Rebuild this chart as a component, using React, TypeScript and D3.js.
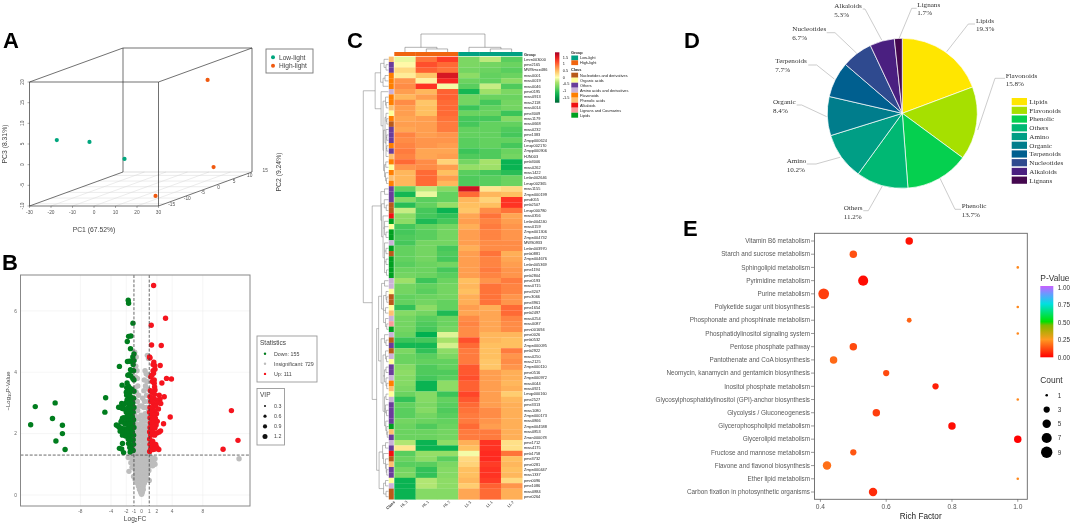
import React from "react";
import * as d3 from "d3";

// ---------- Panel A ----------
const pcaLow = [[-26, -11, 4.3], [-19.5, -5, 2.2], [-20.6, 7, -5.2]];
const pcaHigh = [[13.7, 10, 13.1], [14.3, 11.5, -8.4], [22.1, -12.5, -8.8]];
const pc1Ticks = [-30, -20, -10, 0, 10, 20, 30];
const pc2Ticks = [-15, -10, -5, 0, 5, 10, 15];
const pc3Ticks = [-10, -5, 0, 5, 10, 15, 20];

// ---------- Panel B ----------
const volcanoDown = [
  [-13.9, 2.88], [-11.3, 3.0], [-11.65, 2.49], [-14.5, 2.29], [-10.35, 2.27], [-10.35, 2.0], [-11.2, 1.76], [-10.0, 1.48], [-4.7, 3.17], [-4.8, 2.7], [-2.9, 4.19], [-2.55, 3.58], [-1.75, 6.35], [-1.7, 6.25], [-1.13, 5.6], [-1.7, 5.17], [-1.4, 5.18], [-1.87, 5.0], [-1.45, 4.77],
  [-1.0, 4.6], [-1.15, 4.5], [-1.0, 4.38], [-1.3, 4.36], [-1.6, 4.36], [-1.85, 4.35], [-1.1, 4.25], [-1.45, 4.08], [-1.3, 4.05], [-1.05, 4.05], [-1.65, 3.92], [-1.4, 3.88], [-1.8, 3.9], [-1.15, 3.8], [-1.0, 3.75], [-1.9, 3.65], [-1.75, 3.55], [-1.95, 3.5], [-1.6, 3.5], [-1.3, 3.45], [-1.85, 3.4], [-2.0, 3.35], [-1.55, 3.33], [-1.2, 3.4], [-1.0, 3.38], [-1.95, 3.25], [-1.7, 3.22], [-1.45, 3.2], [-1.9, 3.1], [-1.6, 3.08], [-1.3, 3.12], [-1.05, 3.15], [-2.05, 3.0], [-1.75, 2.98], [-1.45, 2.95], [-1.15, 3.0], [-2.6, 2.98], [-2.35, 2.95], [-3.0, 2.86], [-2.75, 2.85], [-2.5, 2.82], [-2.25, 2.8], [-1.85, 2.82], [-1.55, 2.82], [-1.25, 2.8], [-1.0, 2.85], [-2.0, 2.7], [-1.7, 2.7], [-1.4, 2.65], [-1.1, 2.7], [-1.5, 2.55], [-1.2, 2.55], [-1.85, 2.58], [-2.05, 2.5], [-2.5, 2.5], [-2.3, 2.52], [-2.6, 2.42], [-1.95, 2.4], [-1.65, 2.42], [-1.35, 2.42], [-1.05, 2.45], [-2.7, 2.38], [-2.2, 2.32], [-1.8, 2.3], [-1.5, 2.3], [-1.15, 2.32], [-3.3, 2.28], [-3.1, 2.25], [-2.9, 2.2], [-2.65, 2.18], [-2.4, 2.15], [-2.15, 2.15], [-1.9, 2.15], [-1.6, 2.15], [-1.3, 2.18], [-1.0, 2.2], [-2.8, 2.08], [-2.5, 2.05], [-2.3, 2.02], [-1.95, 2.05], [-1.65, 2.02], [-1.2, 2.05], [-2.5, 1.95], [-2.1, 1.92], [-1.5, 1.92], [-1.05, 1.95], [-1.75, 1.82], [-1.4, 1.78], [-1.1, 1.8], [-2.5, 1.68], [-1.7, 1.68], [-1.35, 1.62], [-1.05, 1.65], [-2.9, 1.52], [-2.6, 1.5], [-1.55, 1.55], [-1.3, 1.5], [-1.1, 1.45], [-2.35, 1.38], [-1.5, 1.4],
];
const volcanoUp = [
  [1.57, 6.83], [3.13, 5.76], [1.26, 5.53], [1.3, 4.89], [2.57, 4.87], [1.04, 4.5], [1.6, 4.33], [1.7, 4.22], [2.43, 4.22], [1.56, 3.97], [1.35, 3.9], [3.26, 3.8], [3.9, 3.78], [2.65, 3.65], [1.65, 3.64], [3.74, 2.54], [11.74, 2.75], [12.6, 1.78], [10.65, 1.49], [2.96, 3.2], [2.87, 2.32], [2.48, 2.09],
  [1.1, 4.47], [1.5, 4.25], [1.75, 4.1], [1.5, 4.05], [1.2, 3.85], [1.65, 3.75], [1.4, 3.7], [1.7, 3.52], [1.75, 3.42], [1.15, 3.4], [1.35, 3.35], [1.7, 3.28], [2.3, 3.25], [2.4, 3.12], [1.1, 3.2], [1.55, 3.15], [1.9, 3.1], [1.2, 3.05], [1.5, 2.98], [2.1, 3.0], [2.5, 2.98], [1.8, 2.9], [1.1, 2.85], [1.4, 2.82], [2.2, 2.8], [1.7, 2.75], [1.05, 2.7], [1.35, 2.65], [1.95, 2.65], [1.6, 2.6], [1.1, 2.52], [1.8, 2.5], [1.4, 2.45], [2.05, 2.4], [1.15, 2.35], [1.6, 2.35], [1.9, 2.28], [1.1, 2.2], [1.4, 2.2], [1.75, 2.18], [1.05, 2.05], [1.45, 2.05], [2.0, 2.02], [2.3, 2.05], [1.2, 1.95], [1.7, 1.95], [1.05, 1.82], [1.45, 1.75], [1.1, 1.65], [1.55, 1.62], [1.85, 1.65], [2.0, 1.55], [1.2, 1.5], [1.5, 1.48], [1.75, 1.5], [2.25, 1.48], [1.05, 1.42],
];
const volcanoFlat = [
  [-0.9, 4.65], [-0.7, 4.5], [-0.95, 4.4], [0.75, 4.55], [0.9, 4.45], [-0.75, 4.2], [-0.6, 4.05], [0.45, 4.05], [0.6, 3.95], [0.85, 3.9], [-0.8, 3.85], [-0.55, 3.8], [0.35, 3.75], [0.7, 3.7], [-0.5, 3.55], [-0.85, 3.5], [0.5, 3.55], [0.85, 3.45], [0.3, 3.4], [-0.7, 3.35], [-0.4, 3.25], [0.65, 3.25], [0.15, 3.15], [-0.85, 3.1], [-0.55, 3.05], [0.4, 3.05], [0.9, 3.05], [-0.25, 2.9], [0.05, 2.9], [0.3, 2.85], [0.65, 2.85], [-0.75, 2.85], [-0.5, 2.75], [-0.9, 2.7], [0.85, 2.7], [0.45, 2.65], [-0.1, 2.6], [0.2, 2.55], [-0.7, 2.55], [0.7, 2.55], [-0.4, 2.48], [-0.9, 2.42], [0.05, 2.4], [0.4, 2.4], [0.9, 2.4], [-0.2, 2.3], [-0.6, 2.3], [0.25, 2.25], [0.65, 2.25], [-0.9, 2.18], [-0.35, 2.15], [0.05, 2.12], [0.45, 2.1], [0.85, 2.1], [-0.65, 2.05], [-0.15, 2.0], [0.25, 1.98], [0.65, 1.95],
  [-0.9, 1.95], [-0.45, 1.9], [0.05, 1.85], [0.45, 1.82], [0.85, 1.82], [-0.7, 1.78], [-0.25, 1.75], [0.25, 1.7], [0.7, 1.68], [-0.95, 1.65], [-0.5, 1.62], [0, 1.6], [0.5, 1.58], [0.95, 1.58], [-0.75, 1.5], [-0.25, 1.48], [0.25, 1.45], [0.75, 1.45], [-1, 1.38], [-0.5, 1.35], [0, 1.33], [0.5, 1.32], [1, 1.35],
  [-1.75, 1.22], [-1.45, 1.25], [-1.2, 1.2], [-0.9, 1.25], [-0.6, 1.22], [-0.3, 1.25], [0, 1.22], [0.3, 1.25], [0.6, 1.22], [0.9, 1.25], [1.2, 1.22], [1.5, 1.2], [1.75, 1.18], [1.6, 1.05], [1.3, 1.08], [1.0, 1.1], [0.7, 1.08], [0.4, 1.1], [0.1, 1.08], [-0.2, 1.1], [-0.5, 1.08], [-0.8, 1.1], [-1.1, 1.08], [-1.4, 1.05], [1.75, 1.0], [1.45, 0.95], [1.1, 0.95], [0.8, 0.95], [0.5, 0.95], [0.2, 0.95], [-0.1, 0.95], [-0.4, 0.95], [-0.7, 0.95], [-1.0, 0.92], [-1.25, 0.9], [-1.65, 0.77], [-0.85, 0.82], [-0.55, 0.82], [-0.25, 0.82], [0.05, 0.82], [0.35, 0.82], [0.65, 0.82], [0.95, 0.8], [-0.75, 0.7], [-0.45, 0.7], [-0.15, 0.7], [0.15, 0.7], [0.45, 0.7], [0.75, 0.7], [-1.05, 0.6], [-0.6, 0.58], [-0.3, 0.58], [0, 0.58], [0.3, 0.58], [0.6, 0.58], [-0.85, 0.5], [-0.45, 0.48], [-0.15, 0.47], [0.15, 0.47], [0.45, 0.48], [1.0, 0.47], [-0.55, 0.38], [-0.25, 0.38], [0.05, 0.37], [0.35, 0.38], [-0.4, 0.28], [-0.12, 0.28], [0.2, 0.28], [-0.28, 0.18], [0, 0.18], [0.22, 0.18], [-0.12, 0.09], [0.1, 0.09], [0, 0.02], [12.74, 1.18],
];
const volcanoXTicks = [-8, -4, -2, -1, 0, 1, 2, 4, 8];
const volcanoYTicks = [0, 2, 4, 6];
const statLabels = ["Down: 155", "Insignificant: 729", "Up: 111"];
const vipLabels = ["0.3", "0.6", "0.9", "1.2"];

// ---------- Panel C ----------
const heatColumns = ["HL 3", "HL 1", "HL 2", "LL 3", "LL 1", "LL 2"];
const heatRows = ["Lmrn003000", "pme2165", "MWSmce486", "mws0001", "mws0019", "mws0046", "pme0195", "mws0913", "mws2118", "mws0014", "pme3009", "mws1179", "mws0668", "mws0232", "pme1383", "Zmpp000624", "Lmxp002170", "Zmpp000906", "HJN003", "pmb3006", "mws0262", "mws1422", "Lmbn002646", "Lmzp002365", "mws1155", "Zmpn000199", "pmdi055", "pmb2507", "Lmxp000780", "mws0356", "Lmbn004240", "mws0159", "Zmpn001306", "Zmpn004732", "MWS0933", "Lmbn003970", "pmb0881", "Zmpn004676", "Lmbn005369", "pme1194", "pmb2804", "pme0193", "mws0715", "pme3207", "pmc3066", "pme3961", "pme1654", "pmb2497", "mws0254", "mws0087", "pmn001694", "pme0026", "pmb0532", "Zmpn000095", "pmb2922", "mws0250", "mws2125", "Zmpn000110", "pme0516", "Zmpn000972", "mws0044", "mws0921", "Lmqp000160", "pme2527", "pme3313", "mws1080", "Zmpn000173", "mws0866", "Zmpn004588", "mws0853", "Zmxn000078", "pme1712", "mws4175", "pmb1758", "pme3732", "pme0281", "Zmpn000447", "mws1337", "pmn0096", "pme1086", "mws0884", "pme0264"];
const heatValues = [
  [-0.1, 0.95, 1.25, -0.65, -0.3, -0.85], [0.05, 1.15, 1.0, -0.65, -0.7, -0.75], [0.3, 1.05, 0.95, -0.7, -0.75, -0.85], [0.15, 0.45, 1.6, -0.55, -0.8, -0.75], [0.75, 0.1, 1.4, -0.75, -0.8, -0.55], [0.8, 1.3, -0.05, -0.85, -0.25, -0.9],
  [0.7, 0.55, 1.05, -1.2, -0.45, -0.65], [0.55, 0.7, 1.05, -0.7, -0.75, -0.75], [0.8, 0.45, 1.0, -0.7, -0.95, -0.7], [0.7, 0.5, 1.0, -1.0, -0.8, -0.7], [0.7, 0.5, 1.0, -0.75, -0.75, -1.0], [0.65, 0.7, 0.95, -0.95, -0.95, -0.6],
  [0.7, 0.7, 0.9, -0.95, -0.8, -0.8], [0.65, 0.7, 0.9, -0.8, -0.8, -0.9], [0.85, 0.7, 0.75, -0.8, -0.8, -0.95], [0.8, 0.75, 0.75, -0.85, -0.8, -0.8], [0.85, 0.75, 0.7, -0.85, -0.8, -0.95], [0.9, 0.65, 0.65, -1.0, -0.9, -0.75],
  [0.85, 0.65, 0.7, -0.9, -0.9, -0.7], [1.0, 0.8, 0.35, -0.7, -0.4, -1.25], [0.75, 0.8, 0.7, -0.5, -0.45, -1.25], [0.55, 1.0, 0.5, -0.85, -0.95, -1.1], [0.55, 1.0, 0.7, -0.9, -0.85, -0.75], [0.55, 1.0, 0.55, -0.9, -0.85, -0.75],
  [-0.8, -0.3, -0.6, 1.65, 0.2, 0.3], [-1.2, -0.1, -0.8, 1.0, 0.55, 0.5], [-0.6, -0.85, -0.8, 0.55, 0.35, 1.3], [-1.1, -0.8, -0.5, 0.5, 0.5, 1.3], [-0.25, -0.95, -1.25, 0.45, 0.8, 0.95], [-0.55, -0.95, -1.05, 0.65, 0.95, 0.65],
  [-0.55, -1.15, -0.95, 0.7, 0.85, 0.7], [-0.95, -0.8, -0.7, 0.6, 0.9, 0.75], [-0.95, -0.85, -0.7, 0.7, 0.85, 0.75], [-0.9, -0.85, -0.7, 0.7, 0.85, 0.75], [-0.95, -0.7, -0.7, 0.7, 0.8, 0.8], [-0.8, -0.7, -0.95, 0.6, 0.8, 0.8],
  [-0.8, -0.7, -0.9, 0.7, 0.95, 0.6], [-0.8, -0.7, -0.95, 0.7, 0.85, 0.65], [-0.85, -0.75, -0.7, 0.7, 0.85, 0.7], [-0.75, -0.75, -0.95, 0.7, 0.9, 0.75], [-0.7, -0.75, -0.85, 0.7, 0.85, 0.75], [-0.45, -1.0, -0.75, 0.5, 0.75, 0.9],
  [-0.7, -0.8, -0.7, 0.55, 0.95, 0.85], [-0.7, -0.85, -0.7, 0.5, 0.95, 0.85], [-0.8, -0.75, -0.7, 0.6, 0.95, 0.75], [-0.8, -0.7, -0.8, 0.6, 0.95, 0.75], [-1.05, -0.55, -0.8, 0.7, 0.6, 1.0], [-0.6, -0.7, -1.15, 0.65, 0.65, 1.0],
  [-0.7, -0.85, -0.75, 0.8, 0.65, 0.85], [-0.7, -0.9, -0.75, 0.85, 0.65, 0.8], [-0.7, -0.95, -0.7, 0.8, 0.65, 0.8], [-0.75, -1.3, -0.15, 0.8, 0.55, 0.55], [-1.0, -0.95, -0.4, 1.15, 0.55, 0.5], [-1.2, -1.2, -0.2, 1.0, 0.5, 0.5],
  [-0.65, -1.05, -0.55, 0.9, 0.5, 0.9], [-0.75, -0.85, -0.65, 0.9, 0.5, 0.75], [-0.75, -0.8, -0.8, 0.9, 0.45, 0.8], [-0.6, -0.9, -0.8, 1.1, 0.45, 0.75], [-0.55, -0.9, -0.9, 1.1, 0.7, 0.6], [-0.6, -0.95, -0.85, 1.15, 0.7, 0.6],
  [-0.6, -1.25, -0.55, 1.05, 0.7, 0.55], [-0.65, -1.25, -0.55, 1.05, 0.7, 0.6], [-0.75, -0.6, -1.0, 1.2, 0.7, 0.4], [-1.05, -0.6, -0.8, 1.1, 0.7, 0.55], [-0.8, -0.65, -0.85, 1.0, 0.7, 0.6], [-0.85, -0.6, -0.9, 0.95, 0.8, 0.6],
  [-0.85, -0.7, -0.85, 0.9, 0.8, 0.6], [-0.7, -0.75, -0.8, 0.9, 0.75, 0.6], [-0.75, -0.9, -0.75, 1.0, 0.7, 0.6], [-0.75, -0.75, -0.7, 0.9, 0.9, 0.6], [-0.75, -0.75, -0.7, 0.9, 0.9, 0.6], [-0.35, -1.25, -0.55, 0.6, 1.3, 0.25],
  [0.2, -1.25, -1.25, 0.5, 1.3, 0.25], [-0.85, -0.5, -0.5, -0.05, 1.35, 0.95], [-0.75, -0.55, -0.85, 0.3, 1.35, 0.5], [-0.85, -0.85, -0.65, 0.35, 1.25, 0.55], [-0.7, -1.05, -0.6, 0.5, 1.3, 0.5], [-0.65, -1.05, -0.6, 0.5, 1.3, 0.55],
  [-1.25, -0.35, -0.55, 0.55, 1.25, 0.3], [-1.25, -0.35, -0.55, 0.4, 1.05, 0.75], [-1.25, -0.6, -0.6, 0.65, 1.0, 0.6], [-1.25, -0.6, -0.6, 0.65, 1.0, 0.6],
];
const classNames = ["Nucleotides and derivatives", "Organic acids", "Others", "Amino acids and derivatives", "Flavonoids", "Phenolic acids", "Alkaloids", "Lignans and Coumarins", "Lipids"];
// index into classNames for each row
const rowClass = [5, 2, 2, 4, 4, 4, 3, 4, 4, 5, 1, 4, 0, 2, 2, 2, 4, 2, 5, 4, 1, 4, 5, 4, 2, 2, 2, 0, 0, 6, 8, 1, 8, 8, 3, 8, 0, 8, 8, 8, 8, 3, 3, 1, 0, 0, 1, 5, 3, 7, 8, 3, 0, 2, 0, 3, 1, 2, 2, 3, 4, 5, 1, 3, 2, 2, 2, 2, 8, 5, 2, 3, 2, 6, 0, 5, 2, 2, 1, 3, 0, 0];
const heatLegendTicks = [1.5, 1, 0.5, 0, -0.5, -1, -1.5];
const heatLegendLabels = ["1.5", "1", "0.5", "0", "-0.5", "-1", "-1.5"];
const groupNames = ["Low-light", "High-light"];
// column clustering: [height, child, child]; leaves are column indices
const colTree: any = [1.0, [0.26, 0, [0.17, 1, 2]], [0.26, 3, [0.17, 4, 5]]];
// row clustering: [height, ...children]; leaves are row numbers (1-based)
const rowTree: any = [1.0,
  [0.52,
    [0.3, [0.16, 1, [0.08, 2, 3]], [0.2, [0.12, 4, 5], 6]],
    [0.28, 7, [0.2, [0.1, 8, [0.07, 9, 10]], [0.18, [0.12, [0.08, 11, [0.05, 12, 13]], [0.08, 14, [0.05, 15, 16], [0.05, 17, 18], 19]], [0.14, [0.09, 20, 21], [0.1, 22, [0.06, 23, 24]]]]]],
  ],
  [0.64,
    [0.29, [0.14, 25, 26], [0.26, [0.15, 27, [0.07, 28, 29]], [0.2, 30, [0.14, 31, 32, [0.08, 33, 34]], [0.14, 35, [0.08, 36, 37], [0.08, 38, 39], [0.06, 40, 41]]]]],
    [0.46,
      [0.38,
        [0.26, [0.14, 42, 43], [0.18, [0.08, 44, [0.05, 45, 46]], [0.1, 47, 48], [0.1, 49, [0.05, 50, 51]]]],
        [0.28, [0.14, 52, [0.08, 53, 54]], [0.2, [0.1, 55, [0.06, 56, 57]], [0.14, [0.08, 58, 59], [0.08, 60, [0.05, 61, 62]]], [0.14, [0.08, 63, 64], [0.1, 65, [0.06, 66, 67]], [0.09, 68, [0.05, 69, [0.03, 70, 71]]]]]],
      ],
      [0.36, [0.22, [0.1, 72, 73], [0.18, 74, [0.1, 75, [0.07, 76, [0.05, 77, 78]]]]], [0.18, [0.1, 79, 80], [0.08, 81, 82]]],
    ],
  ],
];

// ---------- Panel D ----------
const pieNames = ["Lipids", "Flavonoids", "Phenolic", "Others", "Amino", "Organic", "Terpenoids", "Nucleotides", "Alkaloids", "Lignans"];
const pieValues = [19.3, 15.8, 13.7, 11.2, 10.2, 8.4, 7.7, 6.7, 5.3, 1.7];
const pieColors = ["#ffe600", "#a6e000", "#05d04f", "#00b873", "#009e85", "#007d8c", "#005f8f", "#2f4a8f", "#4a1f80", "#45084f"];

// ---------- Panel E ----------
const pathways = ["Vitamin B6 metabolism", "Starch and sucrose metabolism", "Sphingolipid metabolism", "Pyrimidine metabolism", "Purine metabolism", "Polyketide sugar unit biosynthesis", "Phosphonate and phosphinate metabolism", "Phosphatidylinositol signaling system", "Pentose phosphate pathway", "Pantothenate and CoA biosynthesis", "Neomycin, kanamycin and gentamicin biosynthesis", "Inositol phosphate metabolism", "Glycosylphosphatidylinositol (GPI)-anchor biosynthesis", "Glycolysis / Gluconeogenesis", "Glycerophospholipid metabolism", "Glycerolipid metabolism", "Fructose and mannose metabolism", "Flavone and flavonol biosynthesis", "Ether lipid metabolism", "Carbon fixation in photosynthetic organisms"];
const richFactor = [0.67, 0.5, 1.0, 0.53, 0.41, 1.0, 0.67, 1.0, 0.5, 0.44, 0.6, 0.75, 1.0, 0.57, 0.8, 1.0, 0.5, 0.42, 1.0, 0.56];
const pathwayCount = [4, 4, 1, 7, 8, 1, 2, 1, 4, 4, 3, 3, 1, 4, 4, 4, 3, 5, 1, 5];
const pathwayP = [0.03, 0.13, 0.22, 0.02, 0.1, 0.22, 0.16, 0.22, 0.12, 0.17, 0.12, 0.05, 0.22, 0.1, 0.02, 0.0, 0.14, 0.18, 0.22, 0.07];
const richTicks = [0.4, 0.6, 0.8, 1.0];
const countLegend = [1, 3, 5, 7, 9];
const pLegend = [1, 0.75, 0.5, 0.25, 0];

// ---------- layout helpers (not data) ----------
const SANS = "'Liberation Sans', Arial, sans-serif";
const SERIF = "'Liberation Serif', 'Times New Roman', serif";
const pieLeaderLayout = [
  { tx: 976, ty: 22.5, pts: [[946.7, 51.7], [968.3, 24], [975, 24]] },
  { tx: 1005.7, ty: 77.6, pts: [[977.7, 130], [995, 78.3], [1005, 78.3]] },
  { tx: 961.7, ty: 208.3, pts: [[940, 178.3], [955, 209.3], [961, 209.3]] },
  { tx: 843.7, ty: 210, pts: [[882.3, 186], [868.3, 210.7], [863.3, 210.7]] },
  { tx: 786.7, ty: 163.3, pts: [[840, 157.3], [816, 164], [806.7, 164]] },
  { tx: 773, ty: 104, pts: [[826.7, 116.7], [801.7, 105], [796.7, 105]] },
  { tx: 775.3, ty: 63.3, pts: [[834.3, 79], [816.7, 65], [808.3, 65]] },
  { tx: 792.3, ty: 31, pts: [[856.7, 53.3], [835, 32.7], [826.7, 32.7]] },
  { tx: 834.3, ty: 8, pts: [[881.7, 40], [865, 9], [862.7, 9]] },
  { tx: 917.3, ty: 6.6, pts: [[899, 38.7], [911.7, 8.3], [916.7, 8.3]] },
];

const Letter = ({ x, y, t }: any) => (
  <text x={x} y={y} fontFamily={SANS} fontWeight="bold" fontSize={22} fill="#000">{t}</text>
);

function PanelA() {
  const xs = d3.scaleLinear().domain([-30, 30]).range([29.5, 158.5]);
  const zs = d3.scaleLinear().domain([-10, 20]).range([206, 82]);
  const ts = d3.scaleLinear().domain([-17, 13]).range([0, 1]);
  const DX = 93.5, DY = 34;
  const proj = (p: number[]) => [xs(p[0]) + DX * ts(p[1]), zs(p[2]) - DY * ts(p[1])];
  const ink = "#333";
  const x0 = xs(-30), x1 = xs(30), zb = zs(-10), zt = zs(20);
  const edges = [
    [x0, zb, x1, zb], [x0, zt, x1, zt], [x0, zb, x0, zt], [x1, zb, x1, zt],
    [x0, zt, x0 + DX, zt - DY], [x1, zt, x1 + DX, zt - DY], [x0, zb, x0 + DX, zb - DY], [x1, zb, x1 + DX, zb - DY],
    [x0 + DX, zt - DY, x1 + DX, zt - DY], [x0 + DX, zt - DY, x0 + DX, zb - DY], [x1 + DX, zt - DY, x1 + DX, zb - DY],
  ];
  const tickText = { fontFamily: SANS, fontSize: 4.8, fill: "#555" };
  return (
    <g>
      {pc1Ticks.slice(1, -1).map((t) => (
        <line key={t} x1={xs(t)} y1={zb} x2={xs(t) + DX} y2={zb - DY} stroke="#d8d8d8" strokeWidth={0.5} />
      ))}
      {pc2Ticks.slice(0, -1).map((t) => (
        <line key={t} x1={x0 + DX * ts(t)} y1={zb - DY * ts(t)} x2={x1 + DX * ts(t)} y2={zb - DY * ts(t)} stroke="#d8d8d8" strokeWidth={0.5} />
      ))}
      <line x1={x0 + DX} y1={zb - DY} x2={x1 + DX} y2={zb - DY} stroke="#bbb" strokeWidth={0.5} />
      {edges.map((e, i) => (
        <line key={i} x1={e[0]} y1={e[1]} x2={e[2]} y2={e[3]} stroke={ink} strokeWidth={0.7} />
      ))}
      {pc1Ticks.map((t) => (
        <g key={t}>
          <line x1={xs(t)} x2={xs(t)} y1={zb} y2={zb + 2} stroke={ink} strokeWidth={0.4} />
          <text x={xs(t)} y={zb + 8} textAnchor="middle" {...tickText}>{t}</text>
        </g>
      ))}
      {pc3Ticks.map((t) => (
        <g key={t}>
          <line x1={x0 - 2} x2={x0} y1={zs(t)} y2={zs(t)} stroke={ink} strokeWidth={0.4} />
          <text transform={`translate(23.5,${zs(t)}) rotate(-90)`} textAnchor="middle" {...tickText}>{t}</text>
        </g>
      ))}
      {pc2Ticks.map((t) => (
        <text key={t} x={x1 + DX * ts(t) + 7} y={zb - DY * ts(t) + 2} textAnchor="middle" {...tickText}>{t}</text>
      ))}
      {pcaLow.map((p, i) => {
        const [cx, cy] = proj(p);
        return <circle key={i} cx={cx} cy={cy} r={2.1} fill="#00a67e" />;
      })}
      {pcaHigh.map((p, i) => {
        const [cx, cy] = proj(p);
        return <circle key={i} cx={cx} cy={cy} r={2.1} fill="#f0590f" />;
      })}
      <text x={94} y={231.5} textAnchor="middle" fontFamily={SANS} fontSize={6.8} fill="#444">PC1 (67.52%)</text>
      <text transform="translate(7,144) rotate(-90)" textAnchor="middle" fontFamily={SANS} fontSize={6.8} fill="#444">PC3 (8.31%)</text>
      <text transform="translate(280.5,172) rotate(-90)" textAnchor="middle" fontFamily={SANS} fontSize={6.8} fill="#444">PC2 (9.24%)</text>
      <rect x={266} y={49} width={47} height={24} fill="#fff" stroke="#777" strokeWidth={0.9} />
      <circle cx={273} cy={57.3} r={2} fill="#00a67e" />
      <circle cx={273} cy={65.7} r={2} fill="#f0590f" />
      <text x={279} y={59.7} fontFamily={SANS} fontSize={6.6} fill="#444">Low-light</text>
      <text x={279} y={68} fontFamily={SANS} fontSize={6.6} fill="#444">High-light</text>
    </g>
  );
}

function PanelB() {
  const L = 20.5, R = 250, T = 275, B = 506;
  const x = d3.scaleLinear().domain([-15.83, 14.17]).range([L, R]);
  const y = d3.scaleLinear().domain([-0.36, 7.17]).range([B, T]);
  const r = 2.7;
  const Dots = ({ pts, fill }: any) => pts.map((p: number[], i: number) => <circle key={i} cx={x(p[0])} cy={y(p[1])} r={r} fill={fill} />);
  const small = { fontFamily: SANS, fontSize: 5.3, fill: "#444" };
  const tick = { fontFamily: SANS, fontSize: 4.8, fill: "#666" };
  return (
    <g>
      <rect x={L} y={T} width={R - L} height={B - T} fill="#fff" />
      {volcanoXTicks.filter((t) => Math.abs(t) !== 1).map((t) => <line key={t} x1={x(t)} x2={x(t)} y1={T} y2={B} stroke="#ececec" strokeWidth={0.5} />)}
      {volcanoYTicks.map((t) => <line key={t} x1={L} x2={R} y1={y(t)} y2={y(t)} stroke="#ececec" strokeWidth={0.5} />)}
      <Dots pts={volcanoFlat} fill="#bdbdbd" />
      <Dots pts={volcanoDown} fill="#007d1e" />
      <Dots pts={volcanoUp} fill="#f5141e" />
      <line x1={x(-1)} x2={x(-1)} y1={T} y2={B} stroke="#444" strokeWidth={0.8} strokeDasharray="3 1.6" />
      <line x1={x(1)} x2={x(1)} y1={T} y2={B} stroke="#444" strokeWidth={0.8} strokeDasharray="3 1.6" />
      <line x1={L} x2={R} y1={y(1.3)} y2={y(1.3)} stroke="#444" strokeWidth={0.8} strokeDasharray="3 1.6" />
      <rect x={L} y={T} width={R - L} height={B - T} fill="none" stroke="#888" strokeWidth={1} />
      {volcanoXTicks.map((t) => <text key={t} x={x(t)} y={513} textAnchor="middle" {...tick}>{t}</text>)}
      {volcanoYTicks.map((t) => <text key={t} x={17} y={y(t) + 1.7} textAnchor="end" {...tick}>{t}</text>)}
      <text x={135} y={520.5} textAnchor="middle" fontFamily={SANS} fontSize={6.6} fill="#444">Log<tspan fontSize={4.6} dy={1.2}>2</tspan><tspan dy={-1.2}>FC</tspan></text>
      <text transform="translate(10,391) rotate(-90)" textAnchor="middle" fontFamily={SANS} fontSize={6} fill="#444">−Log<tspan fontSize={4.2} dy={1}>10</tspan><tspan dy={-1}>P-Value</tspan></text>
      <rect x={257} y={336} width={60} height={46} fill="#fff" stroke="#999" strokeWidth={0.9} />
      <text x={260} y={344.5} fontFamily={SANS} fontSize={6.5} fill="#444">Statistics</text>
      {statLabels.map((s, i) => (
        <g key={s}>
          <circle cx={265} cy={353.7 + i * 10.1} r={1.2} fill={["#007d1e", "#bdbdbd", "#f5141e"][i]} />
          <text x={274} y={355.5 + i * 10.1} {...small}>{s}</text>
        </g>
      ))}
      <rect x={257} y={388.5} width={27.5} height={56.5} fill="#fff" stroke="#999" strokeWidth={0.9} />
      <text x={260} y={397} fontFamily={SANS} fontSize={6.5} fill="#444">VIP</text>
      {vipLabels.map((s, i) => (
        <g key={s}>
          <circle cx={265} cy={406 + i * 10.2} r={[1, 1.6, 2.1, 2.5][i]} fill="#111" />
          <text x={274} y={407.8 + i * 10.2} {...small}>{s}</text>
        </g>
      ))}
    </g>
  );
}

function PanelC() {
  const x = d3.scaleBand<number>().domain(d3.range(6)).range([394.3, 522.3]);
  const y = d3.scaleBand<number>().domain(d3.range(heatRows.length)).range([56.6, 499.4]);
  const color = d3.scaleLinear<string>()
    .domain([-1.9, -1.3, -0.8, -0.4, 0, 0.5, 1, 1.35, 1.9])
    .range(["#006837", "#00b050", "#63d15f", "#a6e26a", "#ffffb0", "#ffc060", "#ff6a35", "#ff2a20", "#a50026"]);
  const classColors = ["#b85a1a", "#ffff99", "#6a3d9a", "#cab2d6", "#ff7f00", "#fdbf6f", "#f01010", "#fb9a99", "#00a020"];
  const legendY = d3.scaleLinear().domain([1.5, -1.5]).range([57.3, 97.3]);
  const legendStops = d3.range(0, 1.0001, 0.1);
  const legendDomain = d3.scaleLinear().domain([0, 1]).range([1.9, -1.9]);

  const rowX = d3.scaleLinear().domain([0, 1]).range([388, 363.3]);
  const rowLines: number[][] = [];
  const walkRow = (n: any): [number, number] => {
    if (typeof n === "number") return [388.5, y(n - 1)! + y.bandwidth() / 2];
    const h = rowX(n[0]);
    const kids = n.slice(1).map(walkRow);
    kids.forEach((k: number[]) => rowLines.push([h, k[1], k[0], k[1]]));
    rowLines.push([h, kids[0][1], h, kids[kids.length - 1][1]]);
    return [h, (kids[0][1] + kids[kids.length - 1][1]) / 2];
  };
  walkRow(rowTree);

  const colY = d3.scaleLinear().domain([0, 1]).range([52, 34]);
  const colLines: number[][] = [];
  const walkCol = (n: any): [number, number] => {
    if (typeof n === "number") return [x(n)! + x.bandwidth() / 2, 52];
    const h = colY(n[0]);
    const kids = n.slice(1).map(walkCol);
    kids.forEach((k: number[]) => colLines.push([k[0], h, k[0], k[1]]));
    colLines.push([kids[0][0], h, kids[1][0], h]);
    return [(kids[0][0] + kids[1][0]) / 2, h];
  };
  walkCol(colTree);

  const lab = { fontFamily: SANS, fontSize: 3.9, fill: "#222" };
  return (
    <g>
      <defs>
        <linearGradient id="heatGrad" x1="0" y1="0" x2="0" y2="1">
          {legendStops.map((s) => <stop key={s} offset={s} stopColor={color(legendDomain(s))} />)}
        </linearGradient>
      </defs>
      {colLines.map((l, i) => <line key={i} x1={l[0]} y1={l[1]} x2={l[2]} y2={l[3]} stroke="#666" strokeWidth={0.5} />)}
      {rowLines.map((l, i) => <line key={i} x1={l[0]} y1={l[1]} x2={l[2]} y2={l[3]} stroke="#777" strokeWidth={0.5} />)}
      {d3.range(6).map((c) => (
        <rect key={c} x={x(c)} y={52} width={x.bandwidth() + 0.2} height={4} fill={c < 3 ? "#f0640f" : "#00a183"} />
      ))}
      {heatValues.map((row, r) => (
        <g key={r}>
          <rect x={388.8} y={y(r)} width={5} height={y.bandwidth() + 0.1} fill={classColors[rowClass[r]]} />
          {row.map((v, c) => <rect key={c} x={x(c)} y={y(r)} width={x.bandwidth() + 0.2} height={y.bandwidth() + 0.2} fill={color(v)} />)}
          <text x={524} y={y(r)! + y.bandwidth() / 2 + 1.3} {...lab}>{heatRows[r]}</text>
        </g>
      ))}
      <text x={524} y={55.5} {...lab} fontWeight="bold">Group</text>
      <text transform="translate(391.5,506) rotate(-45)" textAnchor="middle" {...lab} fontWeight="bold">Class</text>
      {heatColumns.map((c, i) => (
        <text key={c} transform={`translate(${x(i)! + x.bandwidth() / 2},505) rotate(-45)`} textAnchor="middle" {...lab}>{c}</text>
      ))}
      <rect x={555} y={52.3} width={4.4} height={50.4} fill="url(#heatGrad)" />
      {heatLegendTicks.map((t, i) => <text key={t} x={562.7} y={legendY(t) + 1.3} {...lab}>{heatLegendLabels[i]}</text>)}
      <text x={571} y={53.6} {...lab} fontWeight="bold">Group</text>
      {groupNames.map((g, i) => (
        <g key={g}>
          <rect x={571.3} y={55.5 + i * 4.8} width={6.8} height={4.8} fill={i === 0 ? "#00a183" : "#f0640f"} />
          <text x={580} y={59.3 + i * 4.8} {...lab}>{g}</text>
        </g>
      ))}
      <text x={571} y={71.3} {...lab} fontWeight="bold">Class</text>
      {classNames.map((g, i) => (
        <g key={g}>
          <rect x={571.3} y={72.7 + i * 5} width={6.8} height={5} fill={classColors[i]} />
          <text x={580} y={76.5 + i * 5} {...lab}>{g}</text>
        </g>
      ))}
    </g>
  );
}

function PanelD() {
  const arcs = d3.pie<number>().sort(null)(pieValues);
  const arc = d3.arc<any>().innerRadius(0).outerRadius(75);
  const line = d3.line();
  return (
    <g>
      <g transform="translate(902.3,113.3)">
        {arcs.map((a, i) => <path key={i} d={arc(a) as string} fill={pieColors[i]} stroke="#fff" strokeWidth={0.7} />)}
      </g>
      {pieNames.map((n, i) => {
        const l = pieLeaderLayout[i];
        return (
          <g key={n}>
            <path d={line(l.pts as any) as string} fill="none" stroke="#aaa" strokeWidth={0.6} />
            <text x={l.tx} y={l.ty} fontFamily={SERIF} fontSize={7.1} fill="#333">{n}</text>
            <text x={l.tx} y={l.ty + 8.7} fontFamily={SERIF} fontSize={7.1} fill="#333">{pieValues[i].toFixed(1)}%</text>
          </g>
        );
      })}
      {pieNames.map((n, i) => (
        <g key={n}>
          <rect x={1011.7} y={98 + i * 8.73} width={15.3} height={7.2} fill={pieColors[i]} />
          <text x={1029.3} y={104 + i * 8.73} fontFamily={SERIF} fontSize={7.1} fill="#333">{n}</text>
        </g>
      ))}
    </g>
  );
}

function PanelE() {
  const L = 814.5, R = 1027.3, T = 233.3, B = 499.3;
  const x = d3.scaleLinear().domain([0.382, 1.029]).range([L, R]);
  const y = d3.scalePoint<string>().domain(pathways).range([241, 492]);
  const size = d3.scalePow().exponent(0.3).domain([1, 9]).range([1.3, 5.7]);
  const col = d3.scaleLinear<string>().domain([0, 0.25, 0.4, 0.49, 0.5, 0.75, 0.88, 1]).range(["#ff0000", "#ff9a20", "#a0b000", "#60c000", "#00e000", "#00e0e0", "#60a0ff", "#c860ff"]);
  const gy = d3.scaleLinear().domain([1, 0]).range([287.7, 357.3]);
  const stops = d3.range(0, 1.0001, 0.05);
  return (
    <g>
      <defs>
        <linearGradient id="pGrad" x1="0" y1="0" x2="0" y2="1">
          {stops.map((s) => <stop key={s} offset={s} stopColor={col(1 - s)} />)}
        </linearGradient>
      </defs>
      {pathways.map((p, i) => (
        <g key={p}>
          <line x1={811} x2={L} y1={y(p)} y2={y(p)} stroke="#555" strokeWidth={0.6} />
          <text x={810} y={y(p)! + 2.2} textAnchor="end" fontFamily={SANS} fontSize={6.35} fill="#5a5a5a">{p}</text>
          <circle cx={x(richFactor[i])} cy={y(p)} r={size(pathwayCount[i])} fill={col(pathwayP[i])} />
        </g>
      ))}
      <rect x={L} y={T} width={R - L} height={B - T} fill="none" stroke="#666" strokeWidth={0.9} />
      {richTicks.map((t) => (
        <g key={t}>
          <line x1={x(t)} x2={x(t)} y1={B} y2={B + 2.5} stroke="#555" strokeWidth={0.6} />
          <text x={x(t)} y={509} textAnchor="middle" fontFamily={SANS} fontSize={6.6} fill="#555">{t.toFixed(1)}</text>
        </g>
      ))}
      <text x={920.7} y={519} textAnchor="middle" fontFamily={SANS} fontSize={8.2} fill="#222">Rich Factor</text>
      <text x={1040.3} y={280.5} fontFamily={SANS} fontSize={8.4} fill="#333">P-Value</text>
      <rect x={1040.3} y={286} width={13} height={71.3} fill="url(#pGrad)" />
      {pLegend.map((p) => (
        <text key={p} x={1057.7} y={gy(p) + 2.2} fontFamily={SANS} fontSize={6.3} fill="#333">{p.toFixed(2)}</text>
      ))}
      <text x={1040.3} y={383} fontFamily={SANS} fontSize={8.4} fill="#333">Count</text>
      {countLegend.map((c, i) => (
        <g key={c}>
          <circle cx={1046.7} cy={395.3 + i * 14.25} r={size(c)} fill="#000" />
          <text x={1057.7} y={397.5 + i * 14.25} fontFamily={SANS} fontSize={6.3} fill="#333">{c}</text>
        </g>
      ))}
    </g>
  );
}

export default function App() {
  return (
    <svg width={1072} height={523} viewBox="0 0 1072 523" style={{ position: "absolute", left: 0, top: 0, background: "#fff", filter: "blur(0.3px)" }}>
      <PanelA />
      <PanelB />
      <PanelC />
      <PanelD />
      <PanelE />
      <Letter x={3} y={48} t="A" />
      <Letter x={2} y={270} t="B" />
      <Letter x={347} y={48} t="C" />
      <Letter x={684} y={48} t="D" />
      <Letter x={683} y={236} t="E" />
    </svg>
  );
}
